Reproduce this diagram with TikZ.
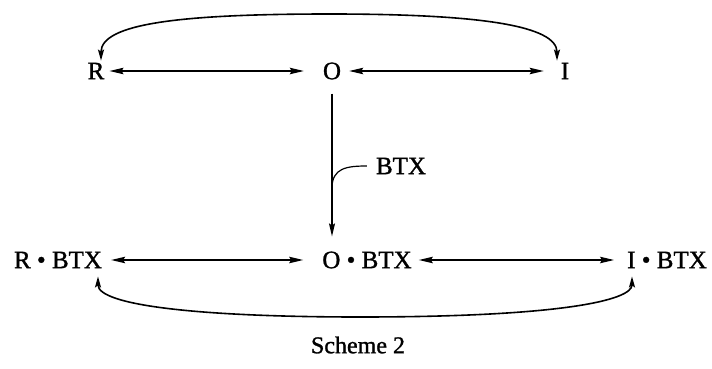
\documentclass[tikz,border=0pt]{standalone}
\usepackage{fontspec}
\setmainfont{Liberation Serif}[BoldFont={Liberation Serif}, BoldFeatures={FakeBold=1.2}]
\usetikzlibrary{arrows.meta, positioning}
\tikzset{
  species/.style={inner sep=2pt, font=\fontsize{25}{29}\selectfont\bfseries},
  eqarrow/.style={{Stealth[length=14pt,width=6.5pt,inset=2pt]}-{Stealth[length=14pt,width=6.5pt,inset=2pt]}, line width=1.2pt},
  looparrow/.style={{Stealth[length=11pt,width=6pt,inset=2pt]}-{Stealth[length=11pt,width=6pt,inset=2pt]}, line width=1.6pt},
  addarrow/.style={-{Stealth[length=13pt,width=6pt,inset=2pt]}, line width=1.2pt}
}

\begin{document}
\begin{tikzpicture}[x=1pt, y=-1pt]
  \useasboundingbox (0,0) rectangle (712,369);

  % Free forms (top row)
  \node[species] (R) at (96,71) {R};
  \node[species] (O) at (332,71) {O};
  \node[species] (I) at (565,71) {I};

  % Complexes (bottom row)
  \node[species] (RB) at (58,260) {R • BTX};
  \node[species] (OB) at (367,260) {O • BTX};
  \node[species] (IB) at (667,260) {I • BTX};

  % Added ligand and caption
  \node[species] (btx) at (401,166) {BTX};
  \node[species, font=\fontsize{24}{28}\selectfont\bfseries] (caption) at (358,345) {Scheme 2};

  % Equilibria
  \draw[eqarrow, shorten <=3pt, shorten >=17pt] (R) -- (O);
  \draw[eqarrow, shorten <=6pt, shorten >=15pt] (O) -- (I);
  \draw[eqarrow, shorten <=7pt, shorten >=17pt] (RB) -- (OB);
  \draw[eqarrow, shorten <=5pt, shorten >=11pt] (OB) -- (IB);

  % Binding step
  \draw[addarrow, shorten <=12pt, shorten >=13pt] (O.south) -- (O |- OB.north);
  \coordinate (join) at (O |- 0,188);
  \draw[line width=1.2pt] ([xshift=-7pt]btx.west) .. controls +(-20,0) and +(0,-20) .. (join);

  % Outer loops
  \coordinate (toparc) at (330,14);
  \coordinate (botarc) at (360,317);
  \draw[looparrow] ([xshift=5pt]R.north) .. controls +(0,-37) and +(-150,0) .. (toparc)
    .. controls +(150,0) and +(0,-35) .. ([xshift=-8pt]I.north);
  \draw[looparrow, shorten <=6pt, shorten >=6pt] ([xshift=40pt]RB.south) .. controls +(0,35) and +(-160,0) .. (botarc)
    .. controls +(200,0) and +(0,30) .. ([xshift=-35pt]IB.south);
\end{tikzpicture}
\end{document}
